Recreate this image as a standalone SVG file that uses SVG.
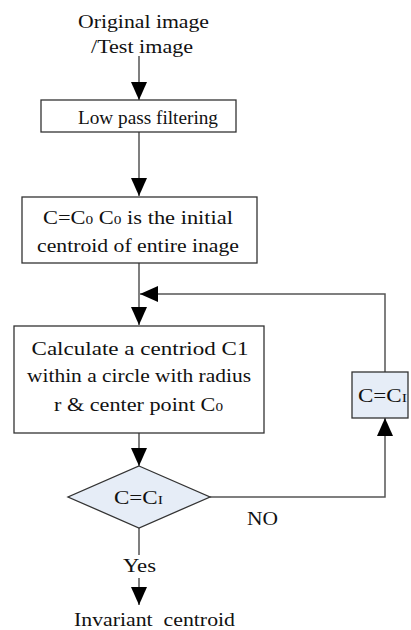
<svg xmlns="http://www.w3.org/2000/svg" width="411" height="630" viewBox="0 0 411 630">
<style>
text{font-family:"Liberation Serif","Times New Roman",serif;font-size:19px;fill:#111;text-anchor:middle}
.box{fill:#fff;stroke:#333;stroke-width:1.3}
.blue{fill:#E6EDF7;stroke:#333;stroke-width:1.3}
.ln{fill:none;stroke:#555;stroke-width:1.5}
.sub{font-size:13px}
</style>
<defs>
<marker id="ah" markerUnits="userSpaceOnUse" markerWidth="18" markerHeight="16" refX="18" refY="8" orient="auto">
<path d="M0,0 L18,8 L0,16 Z" fill="#000"/>
</marker>
</defs>
<g id="connectors">
<line class="ln" x1="139" y1="56" x2="139" y2="100" marker-end="url(#ah)"/>
<line class="ln" x1="139" y1="132" x2="139" y2="196" marker-end="url(#ah)"/>
<line class="ln" x1="139" y1="263" x2="139" y2="325" marker-end="url(#ah)"/>
<polyline class="ln" points="385,372 385,294 140,294" marker-end="url(#ah)"/>
<line class="ln" x1="139" y1="433" x2="139" y2="466" marker-end="url(#ah)"/>
<polyline class="ln" points="210,497 385,497 385,418" marker-end="url(#ah)"/>
<line class="ln" x1="139" y1="528" x2="139" y2="555"/>
<line class="ln" x1="139" y1="578" x2="139" y2="605" marker-end="url(#ah)"/>
</g>
<g id="start">
<text x="143.5" y="28" textLength="131" lengthAdjust="spacingAndGlyphs">Original image</text>
<text x="142" y="53" textLength="102" lengthAdjust="spacingAndGlyphs">/Test image</text>
</g>
<g id="lowpass">
<rect class="box" x="41" y="100" width="195" height="32"/>
<text x="148" y="124" textLength="140" lengthAdjust="spacingAndGlyphs">Low pass filtering</text>
</g>
<g id="init">
<rect class="box" x="22" y="197" width="235" height="66"/>
<text x="138" y="224" textLength="190" lengthAdjust="spacingAndGlyphs">C=C<tspan class="sub">0</tspan>  C<tspan class="sub">0</tspan> is the initial</text>
<text x="138" y="252" textLength="202" lengthAdjust="spacingAndGlyphs">centroid of entire inage</text>
</g>
<g id="calc">
<rect class="box" x="14" y="326" width="250" height="107"/>
<text x="140" y="355" textLength="217" lengthAdjust="spacingAndGlyphs">Calculate a centriod C1</text>
<text x="139" y="382" textLength="224" lengthAdjust="spacingAndGlyphs">within a circle with radius</text>
<text x="138.5" y="411" textLength="169" lengthAdjust="spacingAndGlyphs">r &amp; center point C<tspan class="sub">0</tspan></text>
</g>
<g id="update">
<rect class="blue" x="352" y="372" width="56" height="46"/>
<text x="382.5" y="402" textLength="49" lengthAdjust="spacingAndGlyphs">C=C<tspan class="sub">I</tspan></text>
</g>
<g id="decision">
<polygon class="blue" points="139,466 210,497 139,528 68,497"/>
<text x="138.5" y="504" textLength="49" lengthAdjust="spacingAndGlyphs">C=C<tspan class="sub">I</tspan></text>
<text x="262.5" y="525" textLength="31" lengthAdjust="spacingAndGlyphs">NO</text>
<text x="139.5" y="572" textLength="33" lengthAdjust="spacingAndGlyphs">Yes</text>
</g>
<g id="end">
<text x="154.5" y="626" textLength="161" lengthAdjust="spacingAndGlyphs" xml:space="preserve">Invariant  centroid</text>
</g>
</svg>
